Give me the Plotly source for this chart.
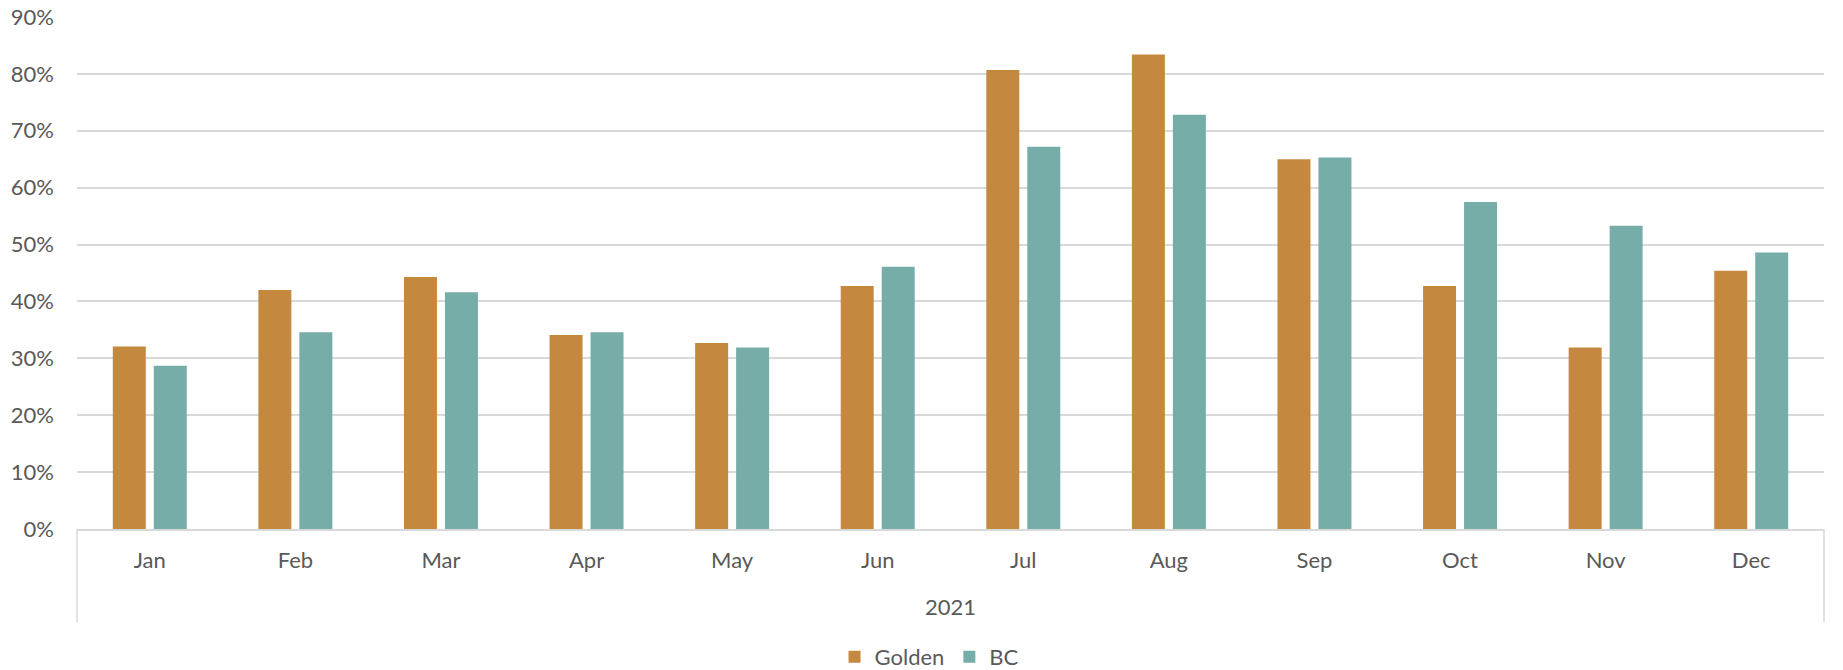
import plotly.graph_objects as go

months = ["Jan", "Feb", "Mar", "Apr", "May", "Jun", "Jul", "Aug", "Sep", "Oct", "Nov", "Dec"]
year_label = "2021"
golden = [0.321, 0.420, 0.443, 0.341, 0.327, 0.427, 0.807, 0.834, 0.650, 0.427, 0.319, 0.454]
bc = [0.287, 0.346, 0.416, 0.346, 0.319, 0.461, 0.672, 0.728, 0.653, 0.575, 0.533, 0.486]
yticks = [0, 0.1, 0.2, 0.3, 0.4, 0.5, 0.6, 0.7, 0.8, 0.9]

FONT = "Lato, Calibri, sans-serif"
TXT = "#595959"
LINE = "#D9D9D9"

fig = go.Figure()
fig.add_trace(go.Bar(name="Golden", x=months, y=golden, marker_color="#C5883F",
                     marker_line_width=0))
fig.add_trace(go.Bar(name="BC", x=months, y=bc, marker_color="#76ADA9",
                     marker_line_width=0))

# category bracket (left/right dividers) and the year group label
for xp in (0, 1):
    fig.add_shape(type="line", xref="paper", yref="paper", x0=xp, x1=xp, y0=0, y1=-0.182,
                  line=dict(color=LINE, width=1.5))
fig.add_annotation(text=year_label, xref="paper", yref="paper", x=0.5, y=-0.1505,
                   showarrow=False, yanchor="middle", font=dict(size=22, color=TXT, family=FONT))

fig.update_layout(
    width=1843, height=670,
    margin=dict(l=77, r=19, t=17, b=141, autoexpand=False),
    paper_bgcolor="white", plot_bgcolor="white",
    barmode="group", bargap=0.437, bargroupgap=0.195,
    font=dict(family=FONT, size=22, color=TXT),
    legend=dict(orientation="h", x=0.488, xanchor="center", y=-0.25, yanchor="middle",
                font=dict(size=22, color=TXT), itemwidth=30, traceorder="normal"),
    showlegend=True,
)
fig.update_yaxes(range=[0, 0.9], tickvals=yticks, tickformat=".0%", showgrid=True,
                 gridcolor=LINE, gridwidth=1.5, zeroline=False, showline=False,
                 ticks="", ticklabelstandoff=22, automargin=False)
fig.update_xaxes(showline=True, linecolor=LINE, linewidth=1.5, ticks="",
                 tickfont=dict(size=22, color=TXT), ticklabelstandoff=11, automargin=False)

fig.write_html("out.html")
